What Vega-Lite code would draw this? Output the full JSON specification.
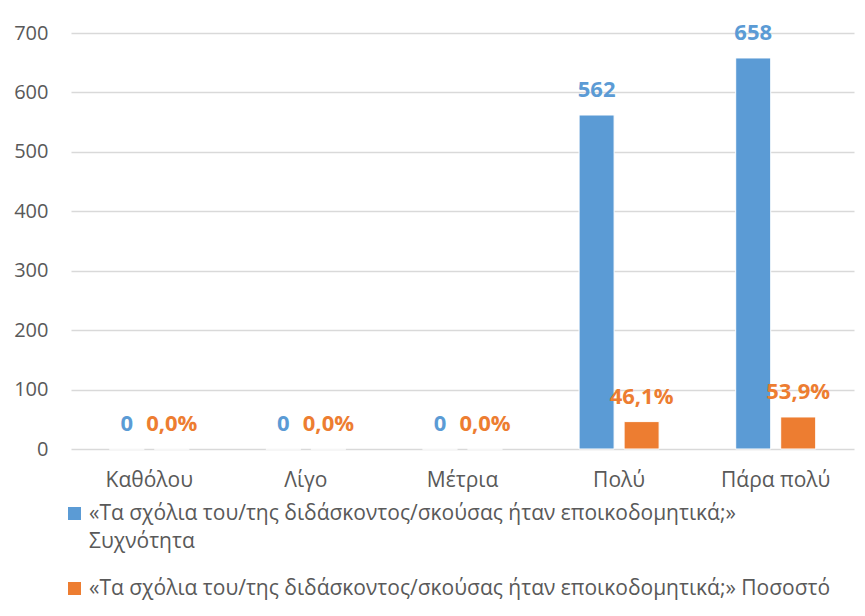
{
  "$schema": "https://vega.github.io/schema/vega-lite/v6.json",
  "width": 783,
  "height": 416,
  "autosize": "none",
  "padding": {"left": 71, "top": 33, "right": 11, "bottom": 167},
  "background": "white",
  "config": {
    "view": {"stroke": null},
    "font": "Open Sans",
    "style": {"guide-label": {"lineHeight": 28}}
  },
  "data": {
    "values": [
      {"cat": "Καθόλου", "series": "«Τα σχόλια του/της διδάσκοντος/σκούσας ήταν εποικοδομητικά;» Συχνότητα", "value": 0, "label": "0"},
      {"cat": "Λίγο", "series": "«Τα σχόλια του/της διδάσκοντος/σκούσας ήταν εποικοδομητικά;» Συχνότητα", "value": 0, "label": "0"},
      {"cat": "Μέτρια", "series": "«Τα σχόλια του/της διδάσκοντος/σκούσας ήταν εποικοδομητικά;» Συχνότητα", "value": 0, "label": "0"},
      {"cat": "Πολύ", "series": "«Τα σχόλια του/της διδάσκοντος/σκούσας ήταν εποικοδομητικά;» Συχνότητα", "value": 562, "label": "562"},
      {"cat": "Πάρα πολύ", "series": "«Τα σχόλια του/της διδάσκοντος/σκούσας ήταν εποικοδομητικά;» Συχνότητα", "value": 658, "label": "658"},
      {"cat": "Καθόλου", "series": "«Τα σχόλια του/της διδάσκοντος/σκούσας ήταν εποικοδομητικά;» Ποσοστό", "value": 0, "label": "0,0%"},
      {"cat": "Λίγο", "series": "«Τα σχόλια του/της διδάσκοντος/σκούσας ήταν εποικοδομητικά;» Ποσοστό", "value": 0, "label": "0,0%"},
      {"cat": "Μέτρια", "series": "«Τα σχόλια του/της διδάσκοντος/σκούσας ήταν εποικοδομητικά;» Ποσοστό", "value": 0, "label": "0,0%"},
      {"cat": "Πολύ", "series": "«Τα σχόλια του/της διδάσκοντος/σκούσας ήταν εποικοδομητικά;» Ποσοστό", "value": 46.1, "label": "46,1%"},
      {"cat": "Πάρα πολύ", "series": "«Τα σχόλια του/της διδάσκοντος/σκούσας ήταν εποικοδομητικά;» Ποσοστό", "value": 53.9, "label": "53,9%"}
    ]
  },
  "encoding": {
    "x": {
      "field": "cat", "type": "nominal",
      "sort": ["Καθόλου", "Λίγο", "Μέτρια", "Πολύ", "Πάρα πολύ"],
      "scale": {"paddingInner": 0.489, "paddingOuter": 0.2445},
      "axis": {
        "title": null, "labelAngle": 0, "ticks": false, "domain": false,
        "labelFontSize": 21, "labelColor": "#595959", "labelPadding": 20
      }
    },
    "xOffset": {
      "field": "series", "type": "nominal",
      "sort": ["«Τα σχόλια του/της διδάσκοντος/σκούσας ήταν εποικοδομητικά;» Συχνότητα", "«Τα σχόλια του/της διδάσκοντος/σκούσας ήταν εποικοδομητικά;» Ποσοστό"],
      "scale": {"paddingInner": 0.222, "paddingOuter": 0}
    },
    "y": {
      "field": "value", "type": "quantitative",
      "scale": {"domain": [0, 700], "nice": false},
      "axis": {
        "title": null, "values": [0, 100, 200, 300, 400, 500, 600, 700],
        "ticks": false, "domain": false, "labelFontSize": 20, "labelColor": "#595959",
        "labelPadding": 23, "gridColor": "#D9D9D9", "gridWidth": 1.5
      }
    },
    "color": {
      "field": "series", "type": "nominal",
      "sort": ["«Τα σχόλια του/της διδάσκοντος/σκούσας ήταν εποικοδομητικά;» Συχνότητα", "«Τα σχόλια του/της διδάσκοντος/σκούσας ήταν εποικοδομητικά;» Ποσοστό"],
      "scale": {"range": ["#5B9BD5", "#ED7D31"]},
      "legend": {
        "title": null, "orient": "none", "legendX": -7, "legendY": 470,
        "direction": "vertical", "symbolType": "square", "symbolSize": 170,
        "symbolStrokeWidth": 0, "labelFontSize": 21, "labelColor": "#595959",
        "labelLimit": 900, "rowPadding": 25, "labelOffset": 4,
        "labelExpr": "indexof(datum.label, 'Συχνότητα') >= 0 ? ['«Τα σχόλια του/της διδάσκοντος/σκούσας ήταν εποικοδομητικά;»', 'Συχνότητα'] : datum.label"
      }
    }
  },
  "layer": [
    {"mark": {"type": "bar", "stroke": "white", "strokeWidth": 1}},
    {
      "mark": {"type": "text", "dy": -18, "baseline": "alphabetic", "fontSize": 22, "fontWeight": "bold"},
      "encoding": {"text": {"field": "label"}}
    }
  ]
}
